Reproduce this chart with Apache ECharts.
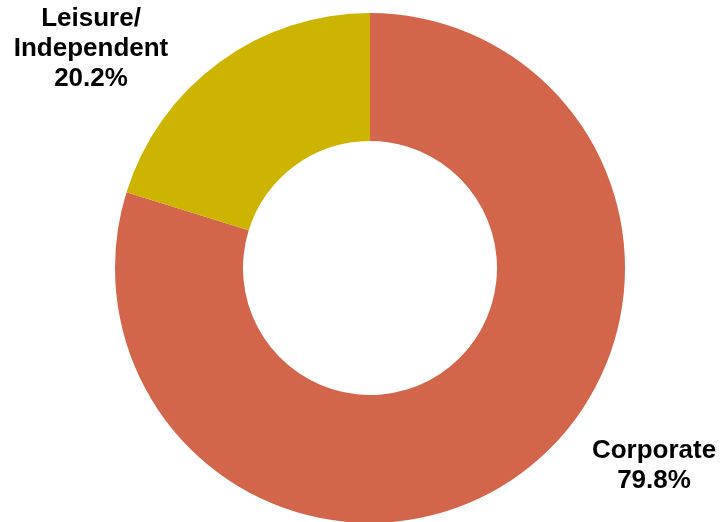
<!DOCTYPE html>
<html>
<head>
<meta charset="utf-8">
<script src="https://cdn.jsdelivr.net/npm/echarts@6/dist/echarts.min.js"></script>
<style>
  html, body { margin: 0; padding: 0; background: #ffffff; }
  #chart { width: 720px; height: 522px; }
</style>
</head>
<body>
<div id="chart"></div>
<script>
// Revenue split by travel segment
const categories = ['Corporate', 'Leisure/\nIndependent'];
const shares = [79.8, 20.2];
const sliceColors = ['#D3654B', '#CDB400'];

// Where each segment label sits (centre of its text block)
const labelSpots = [
  { x: 654, y: 466 },
  { x: 91, y: 49 }
];

const chart = echarts.init(document.getElementById('chart'), null, { renderer: 'canvas' });

chart.setOption({
  animation: false,
  series: [{
    type: 'pie',
    center: [370, 268],
    radius: [127, 255],
    startAngle: 90,
    clockwise: true,
    silent: true,
    data: categories.map((name, i) => ({
      name: name,
      value: shares[i],
      itemStyle: { color: sliceColors[i] }
    })),
    label: {
      show: true,
      position: 'outside',
      formatter: p => p.name + '\n' + p.value.toFixed(1) + '%',
      fontFamily: 'Liberation Sans, Arial, sans-serif',
      fontWeight: 'bold',
      fontSize: 26,
      lineHeight: 30,
      color: '#000000',
      align: 'center'
    },
    labelLine: { show: false },
    labelLayout: params => {
      const spot = labelSpots[params.dataIndex];
      return { x: spot.x, y: spot.y, align: 'center', verticalAlign: 'middle' };
    }
  }]
});
</script>
</body>
</html>
